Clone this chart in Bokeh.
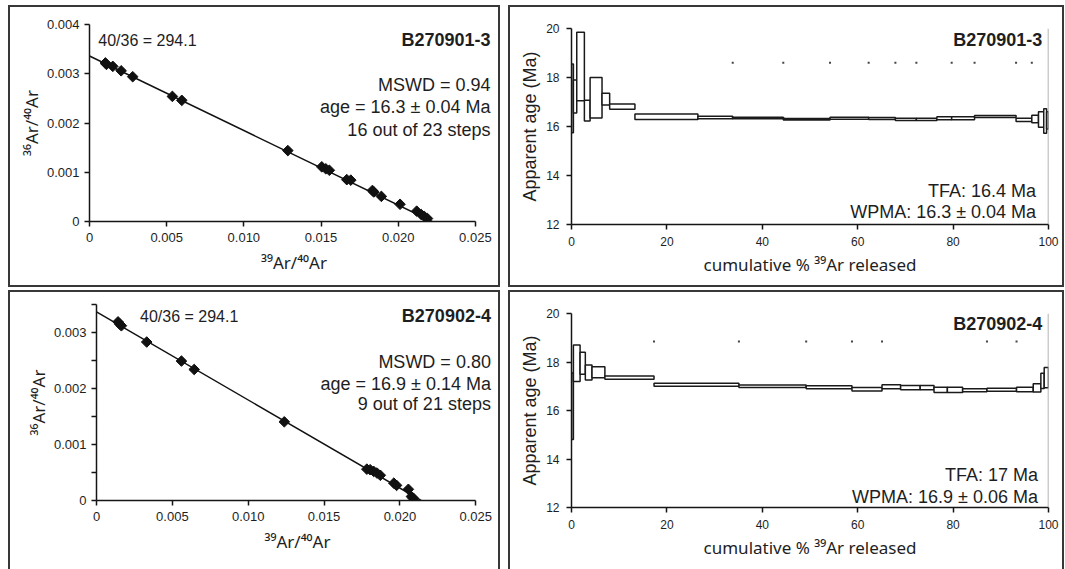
import math
from bokeh.plotting import figure
from bokeh.models import Range1d, FixedTicker, CustomJSTickFormatter, Label, Span, ColumnDataSource
from bokeh.layouts import row, column
from bokeh.embed import file_html
from bokeh.resources import INLINE

# ---------------- data ----------------
# Isochron B270901-3
iso1_x = [0.00103, 0.00110, 0.00151, 0.00205, 0.00280, 0.00537, 0.00598, 0.01285, 0.01505,
          0.01531, 0.01554, 0.01667, 0.01693, 0.01833, 0.01842, 0.01891, 0.02012, 0.02120,
          0.02150, 0.02170, 0.02190]
iso1_y = [0.00322, 0.00319, 0.00315, 0.00306, 0.00294, 0.00254, 0.00246, 0.00144, 0.00111,
          0.00107, 0.00104, 0.00085, 0.00084, 0.00063, 0.00060, 0.00051, 0.00035, 0.00021,
          0.00014, 0.00010, 0.00006]
iso1_fit_x = [0.0, 0.0222]
iso1_fit_y = [0.00336, 0.0]

# Isochron B270902-4
iso2_x = [0.00142, 0.00153, 0.00164, 0.00331, 0.00560, 0.00644, 0.01238, 0.01782, 0.01804,
          0.01827, 0.01849, 0.01871, 0.01960, 0.01978, 0.02056, 0.02076, 0.02089]
iso2_y = [0.00319, 0.00315, 0.00312, 0.00283, 0.00249, 0.00234, 0.001405, 0.00056, 0.00055,
          0.00052, 0.00049, 0.00045, 0.00031, 0.00027, 0.00020, 0.00007, 0.00004]
iso2_fit_x = [0.0, 0.0214]
iso2_fit_y = [0.00337, 0.0]

iso_xticks = [0, 0.005, 0.010, 0.015, 0.020, 0.025]
iso1_yticks = [0, 0.001, 0.002, 0.003, 0.004]
iso2_yticks = [0, 0.001, 0.002, 0.003]
iso2_yminor = [0.0005, 0.0015, 0.0025, 0.0035]

# Age spectrum B270901-3 (cumulative %39Ar, age range in Ma)
spec1_start = [0.0, 0.4, 1.1, 2.7, 3.9, 6.4, 8.0, 13.3, 26.5, 33.8, 44.4, 54.2, 62.3, 67.9,
               72.3, 76.6, 79.7, 84.5, 93.2, 96.5, 97.9, 99.0, 99.6]
spec1_end = [0.4, 1.1, 2.7, 3.9, 6.4, 8.0, 13.3, 26.5, 33.8, 44.4, 54.2, 62.3, 67.9, 72.3,
             76.6, 79.7, 84.5, 93.2, 96.5, 97.9, 99.0, 99.6, 100.0]
spec1_low = [15.75, 16.55, 17.05, 16.22, 16.35, 16.88, 16.70, 16.29, 16.32, 16.32, 16.27,
             16.30, 16.29, 16.24, 16.24, 16.28, 16.28, 16.37, 16.20, 16.15, 15.97, 15.72, 15.90]
spec1_high = [18.55, 17.90, 19.85, 17.07, 18.00, 17.36, 16.92, 16.51, 16.42, 16.38, 16.33,
              16.38, 16.37, 16.34, 16.34, 16.40, 16.40, 16.45, 16.34, 16.46, 16.60, 16.72, 16.60]
spec1_mark_x = [33.8, 44.4, 54.2, 62.3, 67.9, 72.3, 79.7, 84.5, 93.2, 96.5]
spec1_mark_y = [18.6] * 10

# Age spectrum B270902-4
spec2_start = [0.0, 0.4, 1.8, 2.9, 4.3, 7.0, 17.3, 35.1, 49.2, 58.8, 65.1, 69.0, 73.1, 76.0,
               78.8, 82.0, 87.1, 93.3, 96.8, 98.4, 99.1]
spec2_end = [0.4, 1.8, 2.9, 4.3, 7.0, 17.3, 35.1, 49.2, 58.8, 65.1, 69.0, 73.1, 76.0, 78.8,
             82.0, 87.1, 93.3, 96.8, 98.4, 99.1, 100.0]
spec2_low = [14.80, 17.20, 17.50, 17.26, 17.35, 17.29, 17.00, 16.95, 16.90, 16.80, 16.90,
             16.86, 16.86, 16.74, 16.74, 16.77, 16.79, 16.77, 16.76, 16.91, 16.94]
spec2_high = [17.55, 18.70, 18.40, 17.88, 17.80, 17.42, 17.12, 17.05, 17.02, 16.95, 17.06,
              17.03, 17.03, 16.96, 16.96, 16.90, 16.92, 16.96, 17.10, 17.54, 17.77]
spec2_mark_x = [17.3, 35.1, 49.2, 58.8, 65.1, 87.1, 93.3]
spec2_mark_y = [18.85] * 7

spec_xticks = [0, 20, 40, 60, 80, 100]
spec_yticks = [12, 14, 16, 18, 20]

# ---------------- styling ----------------
FONT = "Liberation Sans"
SUP_FONT = "Noto Sans"
TXT = "#1e1e1e"
AX = "#151515"
BORDER = "2px solid #383838"

iso_fmt = CustomJSTickFormatter(code="return Math.abs(tick) < 1e-12 ? '0' : tick.toFixed(3);")


def base_fig(w, h, xr, yr, mb, top_panel):
    p = figure(width=w, height=h, x_range=xr, y_range=yr, output_backend="svg",
               toolbar_location=None, min_border_left=mb[0], min_border_right=mb[1],
               min_border_top=mb[2], min_border_bottom=mb[3])
    p.outline_line_color = None
    p.xgrid.grid_line_color = None
    p.ygrid.grid_line_color = None
    p.background_fill_color = "white"
    p.border_fill_color = "white"
    st = {"border": BORDER, "box-sizing": "content-box"}
    if not top_panel:
        st["border-bottom"] = "none"
    p.styles = st
    for ax in (p.xaxis[0], p.yaxis[0]):
        ax.axis_line_color = AX
        ax.axis_line_width = 1.5
        ax.major_tick_line_color = AX
        ax.major_tick_line_width = 1.5
        ax.major_tick_in = 0
        ax.minor_tick_in = 0
        ax.minor_tick_out = 0
        ax.major_label_text_font = FONT
        ax.major_label_text_color = TXT
        ax.axis_label_text_font = FONT
        ax.axis_label_text_font_size = "18px"
        ax.axis_label_text_font_style = "normal"
        ax.axis_label_text_color = TXT
    return p


def add_label(p, x, y, text, align, size, bold=False):
    p.add_layout(Label(x=x, y=y, text=text, text_align=align, text_baseline="middle",
                       text_font=FONT, text_font_size=size,
                       text_font_style="bold" if bold else "normal", text_color=TXT))


def iso_panel(w, h, mb, top_panel, ytop, yticks, yminor, xs, ys, fx, fy, texts):
    p = base_fig(w, h, Range1d(0, 0.0265), Range1d(0, ytop), mb, top_panel)
    p.xaxis.bounds = (0, 0.025)
    p.xaxis.ticker = FixedTicker(ticks=iso_xticks)
    p.yaxis.ticker = FixedTicker(ticks=yticks, minor_ticks=yminor)
    p.xaxis.formatter = iso_fmt
    p.yaxis.formatter = iso_fmt
    for ax in (p.xaxis[0], p.yaxis[0]):
        ax.major_tick_out = 5
        ax.major_label_text_font_size = "13px"
        ax.axis_label_text_font = SUP_FONT
        ax.axis_label_text_font_size = "17px"
    if yminor:
        p.yaxis.minor_tick_out = 5
        p.yaxis.minor_tick_line_color = AX
        p.yaxis.minor_tick_line_width = 1.5
    p.xaxis.major_label_standoff = 6
    p.yaxis.major_label_standoff = 5
    p.xaxis.axis_label = "\u00b3\u2079Ar/\u2074\u2070Ar"
    p.yaxis.axis_label = "\u00b3\u2076Ar/\u2074\u2070Ar"
    p.xaxis.axis_label_standoff = 6
    p.yaxis.axis_label_standoff = 1
    p.line(fx, fy, line_color="#111111", line_width=1.5)
    p.scatter(xs, ys, marker="square", size=7.5, angle=math.pi / 4,
              fill_color="#111111", line_color="#111111", line_width=1)
    for (x, y, t, a, s, b) in texts:
        add_label(p, x, y, t, a, s, b)
    return p


def spec_panel(w, h, mb, top_panel, s0, s1, lo, hi, mx, my, texts):
    p = base_fig(w, h, Range1d(0, 100), Range1d(12, 20), mb, top_panel)
    p.xaxis.ticker = FixedTicker(ticks=spec_xticks)
    p.yaxis.ticker = FixedTicker(ticks=spec_yticks)
    for ax in (p.xaxis[0], p.yaxis[0]):
        ax.major_tick_out = 5
        ax.major_label_text_font_size = "12px"
    p.xaxis.axis_label_text_font = SUP_FONT
    p.xaxis.axis_label_text_font_size = "17px"
    p.xaxis.major_label_standoff = 7
    p.yaxis.major_label_standoff = 7
    p.xaxis.axis_label = "cumulative % \u00b3\u2079Ar released"
    p.yaxis.axis_label = "Apparent age (Ma)"
    p.xaxis.axis_label_standoff = 4
    p.yaxis.axis_label_standoff = 3
    p.add_layout(Span(location=100, dimension="height", line_color="#9a9a9a", line_width=1.5))
    src = ColumnDataSource(dict(left=s0, right=s1, bottom=lo, top=hi))
    p.quad(left="left", right="right", bottom="bottom", top="top", source=src,
           fill_color="white", line_color="#1a1a1a", line_width=1.5)
    p.scatter(mx, my, marker="square", size=2, fill_color="#444444", line_color=None)
    for (x, y, t, a, s, b) in texts:
        add_label(p, x, y, t, a, s, b)
    return p


p1 = iso_panel(488, 278, (79, 4, 17, 68), True, 0.004, iso1_yticks, [],
               iso1_x, iso1_y, iso1_fit_x, iso1_fit_y,
               [(0.00057, 0.00368, "40/36 = 294.1", "left", "16px", False),
                (0.02598, 0.00368, "B270901-3", "right", "18px", True),
                (0.02598, 0.002777, "MSWD = 0.94", "right", "18px", False),
                (0.02598, 0.002321, "age = 16.3 \u00b1 0.04 Ma", "right", "18px", False),
                (0.02598, 0.001865, "16 out of 23 steps", "right", "18px", False)])

p2 = spec_panel(552, 278, (61, 18, 21, 65), True, spec1_start, spec1_end, spec1_low, spec1_high,
                spec1_mark_x, spec1_mark_y,
                [(98.7, 19.55, "B270901-3", "right", "18px", True),
                 (97.4, 13.35, "TFA: 16.4 Ma", "right", "18px", False),
                 (97.4, 12.51, "WPMA: 16.3 \u00b1 0.04 Ma", "right", "18px", False)])

p3 = iso_panel(488, 277, (86, 4, 12, 71), False, 0.0035, iso2_yticks, iso2_yminor,
               iso2_x, iso2_y, iso2_fit_x, iso2_fit_y,
               [(0.00287, 0.003286, "40/36 = 294.1", "left", "16px", False),
                (0.0260, 0.003286, "B270902-4", "right", "18px", True),
                (0.0260, 0.00248, "MSWD = 0.80", "right", "18px", False),
                (0.0260, 0.002087, "age = 16.9 \u00b1 0.14 Ma", "right", "18px", False),
                (0.0260, 0.001725, "9 out of 21 steps", "right", "18px", False)])

p4 = spec_panel(552, 277, (61, 18, 21, 64), False, spec2_start, spec2_end, spec2_low, spec2_high,
                spec2_mark_x, spec2_mark_y,
                [(98.7, 19.55, "B270902-4", "right", "18px", True),
                 (97.8, 13.34, "TFA: 17 Ma", "right", "18px", False),
                 (97.8, 12.44, "WPMA: 16.9 \u00b1 0.06 Ma", "right", "18px", False)])

# wrap each panel on its own so that sibling plot frames are not aligned to each other
top = row(column(p1), column(p2), spacing=8)
bottom = row(column(p3), column(p4), spacing=8)
lay = column(top, bottom, spacing=3)
lay.margin = (5, 0, 0, 8)

open("out.html", "w").write(file_html(lay, INLINE))
